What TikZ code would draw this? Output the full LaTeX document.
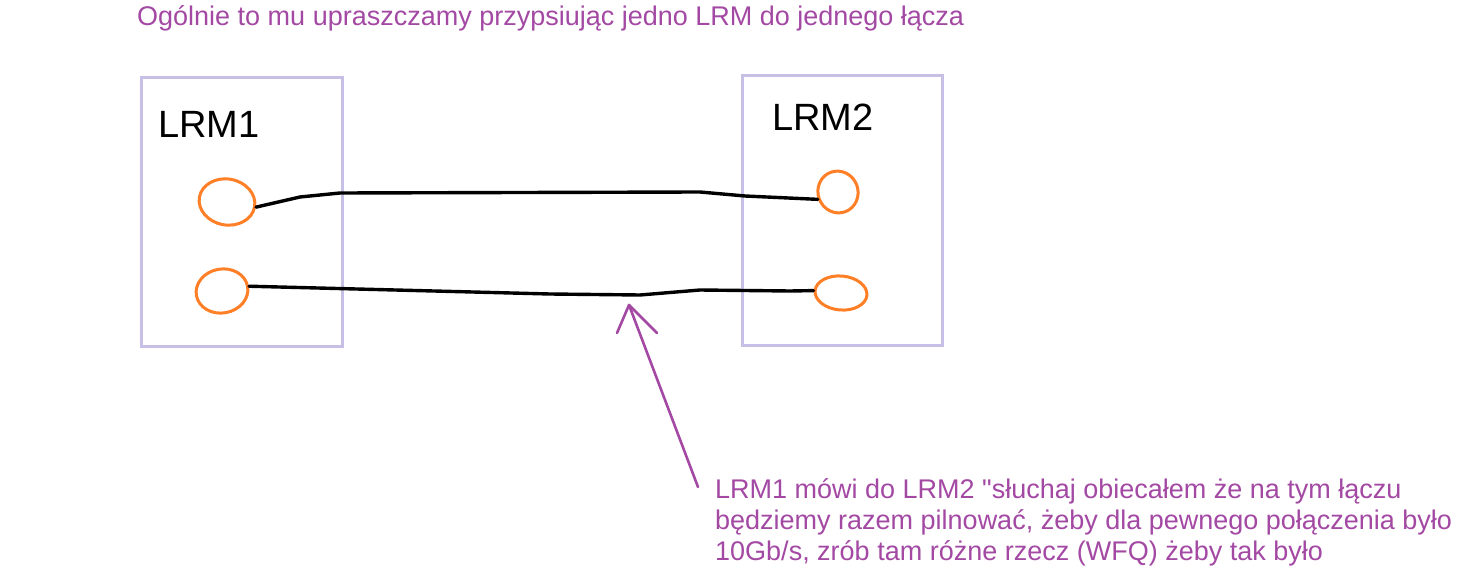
\documentclass[tikz,border=0pt]{standalone}
\usepackage{fontspec}
\setmainfont{Liberation Sans}[Ligatures=TeXOff]
\usetikzlibrary{shapes.geometric}
\definecolor{paintpurple}{HTML}{A349A4}
\definecolor{paintorange}{HTML}{FF7F27}
\definecolor{lavender}{HTML}{C8BFE7}
\tikzset{
  lrmbox/.style={draw=lavender, line width=3pt},
  port/.style={draw=paintorange, line width=3pt, ellipse, inner sep=0pt},
  wire/.style={draw=black, line width=3.4pt, line join=round, line cap=round},
  note/.style={text=paintpurple, font=\fontsize{27}{31}\selectfont, inner sep=0pt, align=left},
  lrmlabel/.style={text=black, font=\fontsize{38}{40}\selectfont, inner sep=0pt},
  pointer/.style={draw=paintpurple, line width=2.6pt, line cap=round, line join=round}
}
\begin{document}
\begin{tikzpicture}[x=1pt,y=-1pt]
\useasboundingbox (0,0) rectangle (1465,572);
\fill[white] (0,0) rectangle (1465,572);
% title
\node[note, anchor=base west] (title) at (137,26) {Ogólnie to mu upraszczamy przypsiując jedno LRM do jednego łącza};
% boxes
\draw[lrmbox] (141,78) rectangle (342,346);
\draw[lrmbox] (742,76) rectangle (942,345);
\node[lrmlabel, anchor=base west] (l1) at (158,138) {LRM1};
\node[lrmlabel, anchor=base west] (l2) at (772,131) {LRM2};
% ports
\node[port, minimum width=56pt, minimum height=46pt, rotate=-10] (a1) at (227,202) {};
\node[port, minimum width=52pt, minimum height=44pt, rotate=10] (a2) at (222,291) {};
\node[port, minimum width=40pt, minimum height=42pt, rotate=20] (b1) at (838,192) {};
\node[port, minimum width=52pt, minimum height=34pt, rotate=-5] (b2) at (841,293) {};
% wires
\coordinate (w1a) at (300,197);
\coordinate (w1b) at (340,193);
\coordinate (w1c) at (700,192);
\coordinate (w1d) at (745,196);
\draw[wire] (a1.east) -- (w1a) -- (w1b) -- (w1c) -- (w1d) -- (b1.west);
\coordinate (w2a) at (550,294);
\coordinate (w2b) at (640,295);
\coordinate (w2c) at (700,290);
\coordinate (w2d) at (790,291);
\draw[wire] (a2.east) -- (w2a) -- (w2b) -- (w2c) -- (w2d) -- (b2.west);
% note and pointer
\node[note, anchor=base west] (note) at (715,560) {LRM1 mówi do LRM2 "słuchaj obiecałem że na tym łączu\\będziemy razem pilnować, żeby dla pewnego połączenia było\\10Gb/s, zrób tam różne rzecz (WFQ) żeby tak było};
\coordinate (tail) at (698,487);
\coordinate (tip) at (629,305);
\coordinate (barbL) at (617,333);
\coordinate (barbR) at (657,333);
\draw[pointer] (tail) -- (tip);
\draw[pointer] (barbL) -- (tip) -- (barbR);
\end{tikzpicture}
\end{document}
